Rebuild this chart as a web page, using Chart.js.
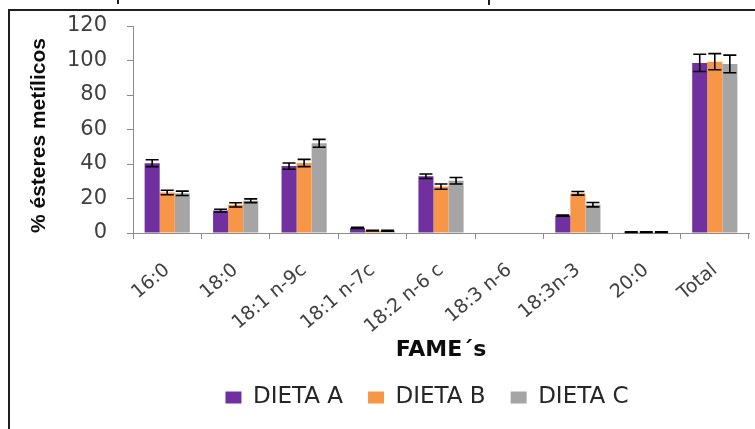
<!DOCTYPE html>
<html>
<head>
<meta charset="utf-8">
<script src="https://cdn.jsdelivr.net/npm/chart.js@4.4.1/dist/chart.umd.min.js"></script>
<style>
  html, body { margin: 0; padding: 0; background: #ffffff; }
  #wrap { width: 755px; height: 429px; position: relative; }
</style>
</head>
<body>
<div id="wrap"><canvas id="c" width="755" height="429"></canvas></div>
<script>
// Fatty acid methyl esters per diet (% of total), with standard deviations
const categories = ['16:0', '18:0', '18:1 n-9c', '18:1 n-7c', '18:2 n-6 c', '18:3 n-6', '18:3n-3', '20:0', 'Total'];
const seriesNames = ['DIETA A', 'DIETA B', 'DIETA C'];
const dietaA = [40.5, 13.0, 38.8, 3.0, 32.9, 0, 10.1, 0.5, 98.6];
const dietaB = [23.5, 16.3, 40.6, 1.4, 26.9, 0, 23.0, 0.5, 99.3];
const dietaC = [23.0, 18.7, 52.0, 1.3, 30.3, 0, 16.4, 0.5, 98.0];
const errA = [2.0, 0.8, 1.8, 0.3, 1.3, 0, 0.3, 0.2, 5.0];
const errB = [1.3, 1.2, 2.1, 0.2, 1.5, 0, 1.05, 0.2, 4.7];
const errC = [1.3, 1.1, 2.3, 0.2, 1.9, 0, 1.25, 0.2, 5.1];
const yTicks = [0, 20, 40, 60, 80, 100, 120];
const yTitle = '% ésteres metílicos';
const xTitle = 'FAME´s';

const colors = ['#7030A0', '#F79646', '#A5A5A5'];
const tickColor = '#404040';
const axisColor = '#8c8c8c';

// Outer border of the chart box
const framePlugin = {
  id: 'frame',
  beforeDraw(chart) {
    const ctx = chart.ctx;
    ctx.save();
    ctx.strokeStyle = '#1f1f1f';
    ctx.lineWidth = 2;
    ctx.beginPath();
    ctx.moveTo(9, chart.height);
    ctx.lineTo(9, 10);
    ctx.lineTo(chart.width, 10);
    ctx.moveTo(118, 0);
    ctx.lineTo(118, 4);
    ctx.moveTo(489, 0);
    ctx.lineTo(489, 5);
    ctx.stroke();
    ctx.restore();
  }
};

// Legend sits slightly left of the plot centre
const legendShiftPlugin = {
  id: 'legendShift',
  afterLayout(chart) {
    const lg = chart.legend;
    if (lg) { lg.left -= 28; }
  }
};

// Standard-deviation whiskers on top of each bar
const errorBarPlugin = {
  id: 'errorBars',
  afterDatasetsDraw(chart) {
    const ctx = chart.ctx;
    const yScale = chart.scales.y;
    ctx.save();
    ctx.strokeStyle = '#000000';
    ctx.lineWidth = 1.6;
    chart.data.datasets.forEach((ds, i) => {
      const meta = chart.getDatasetMeta(i);
      if (meta.hidden) return;
      meta.data.forEach((bar, j) => {
        const v = ds.data[j];
        const e = ds.errors[j];
        if (!v) return;
        const yTop = yScale.getPixelForValue(v + e);
        const yBot = yScale.getPixelForValue(v - e);
        const half = 6.5;
        ctx.beginPath();
        ctx.moveTo(bar.x, yTop);
        ctx.lineTo(bar.x, yBot);
        ctx.moveTo(bar.x - half, yTop);
        ctx.lineTo(bar.x + half, yTop);
        ctx.moveTo(bar.x - half, yBot);
        ctx.lineTo(bar.x + half, yBot);
        ctx.stroke();
      });
    });
    ctx.restore();
  }
};

const seriesValues = [dietaA, dietaB, dietaC];
const seriesErrors = [errA, errB, errC];

new Chart(document.getElementById('c'), {
  type: 'bar',
  data: {
    labels: categories,
    datasets: seriesNames.map((name, i) => ({
      label: name,
      data: seriesValues[i],
      errors: seriesErrors[i],
      backgroundColor: colors[i],
      borderWidth: 0,
      categoryPercentage: 0.66,
      barPercentage: 1.0
    }))
  },
  options: {
    responsive: false,
    animation: false,
    devicePixelRatio: 1,
    layout: { padding: { left: 10, right: 6, top: 26, bottom: 10 } },
    plugins: {
      tooltip: { enabled: false },
      title: { display: false },
      legend: {
        display: true,
        position: 'bottom',
        fullSize: false,
        labels: {
          boxWidth: 16,
          boxHeight: 12,
          padding: 25,
          color: '#262626',
          font: { family: 'DejaVu Sans', size: 23 }
        }
      }
    },
    scales: {
      x: {
        grid: {
          display: true,
          drawOnChartArea: false,
          drawTicks: true,
          tickLength: 6,
          color: axisColor,
          offset: true
        },
        border: { display: true, color: axisColor, width: 1 },
        ticks: {
          color: tickColor,
          font: { family: 'DejaVu Sans', size: 19 },
          minRotation: 40,
          maxRotation: 40,
          autoSkip: false,
          padding: 20
        },
        title: {
          display: true,
          text: xTitle,
          color: '#0d0d0d',
          font: { family: 'DejaVu Sans', size: 22, weight: 'bold', lineHeight: 1.0 },
          padding: { top: 0, bottom: 0 }
        },
        afterFit(scale) { scale.height = 128; }
      },
      y: {
        min: 0,
        max: 120,
        afterBuildTicks(scale) { scale.ticks = yTicks.map(v => ({ value: v })); },
        grid: {
          display: true,
          drawOnChartArea: false,
          drawTicks: true,
          tickLength: 6,
          color: axisColor
        },
        border: { display: true, color: axisColor, width: 1 },
        ticks: {
          color: tickColor,
          font: { family: 'DejaVu Sans', size: 21 },
          padding: 20
        },
        title: {
          display: true,
          text: yTitle,
          align: 'start',
          color: '#0d0d0d',
          font: { family: 'Liberation Sans', size: 21, weight: 'bold' },
          padding: { top: 17, bottom: 0 }
        },
        afterFit(scale) {
          scale.width = 123;
          scale.paddingTop = 0;
          scale.paddingBottom = 0;
        }
      }
    }
  },
  plugins: [framePlugin, legendShiftPlugin, errorBarPlugin]
});
</script>
</body>
</html>
